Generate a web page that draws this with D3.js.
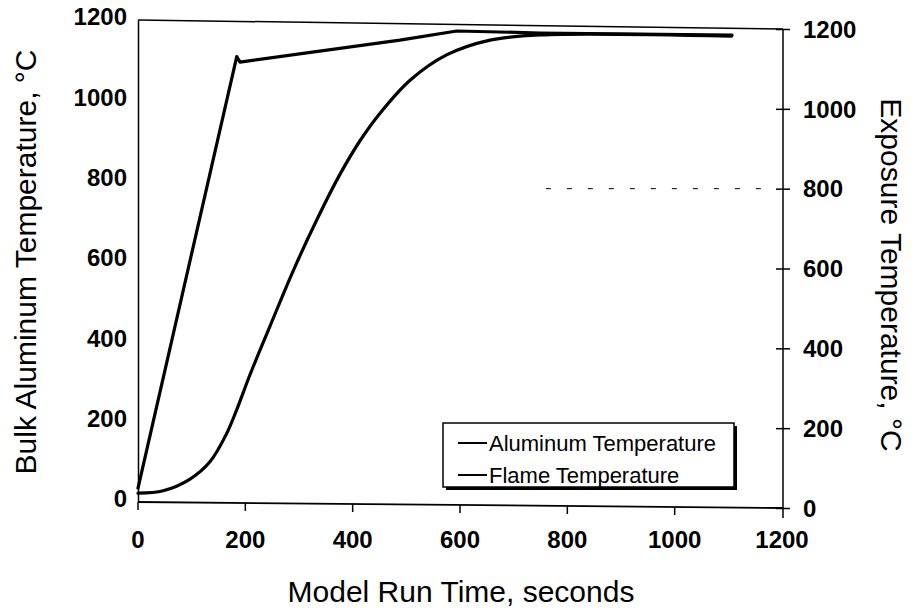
<!DOCTYPE html>
<html><head><meta charset="utf-8">
<script src="https://cdn.jsdelivr.net/npm/d3@7"></script>
<style>html,body{margin:0;padding:0;background:#fff;}svg{display:block;font-family:"Liberation Sans",Arial,sans-serif;}</style>
</head><body>
<svg id="chart" width="914" height="614"></svg>
<script>
// ---- data ----
const xTicks = [0, 200, 400, 600, 800, 1000, 1200];
const yTicks = [0, 200, 400, 600, 800, 1000, 1200];
const seriesNames = ["Aluminum Temperature", "Flame Temperature"];
const aluminumTime = [0, 47, 97, 134, 165, 184, 209, 246, 289, 333, 376, 414, 451, 507, 575, 656, 749, 1106];
const aluminumTemp = [22, 28, 57, 100, 170, 230, 318, 438, 575, 702, 815, 900, 968, 1050, 1113, 1150, 1163, 1160];
const flameTime = [0, 184, 190, 488, 594, 749, 1107];
const flameTemp = [50, 1131, 1117, 1172, 1195, 1190, 1185];
const gridValue = 800;
const gridFrom = 760;

// ---- layout ----
const svg = d3.select("#chart");
const fmt = d3.format("d");
const x = d3.scaleLinear().domain([0, 1200]).range([138, 782]);
const yL = d3.scaleLinear().domain([0, 1200]).range([502, 20]);
const yR = d3.scaleLinear().domain([0, 1200]).range([508, 29]);
const xR = 783;
const frac = px => (px - x(0)) / (xR - x(0));
const bottomY = px => yL(0) + (yR(0) - yL(0)) * frac(px);

// frame: top & bottom lines (slightly tilted like the scan)
svg.append("line").attr("x1", x(0)).attr("y1", yL(1200)).attr("x2", xR).attr("y2", yR(1200))
  .attr("stroke", "#000").attr("stroke-width", 1.5);
svg.append("line").attr("x1", x(0)).attr("y1", yL(0)).attr("x2", xR).attr("y2", yR(0))
  .attr("stroke", "#000").attr("stroke-width", 1.8);
// left axis
const leftAxis = d3.axisLeft(yL).tickValues(yTicks).tickFormat(fmt).tickSize(0).tickPadding(11);
const gL = svg.append("g").attr("transform", `translate(${x(0)},0)`).call(leftAxis);
gL.select(".domain").attr("stroke-width", 1.5);
gL.selectAll("text").attr("font-size", 24).attr("font-weight", "bold").attr("fill", "#000")
  .attr("font-family", "Liberation Sans, Arial, sans-serif").attr("dy", "0.28em")
  .attr("transform", "translate(0,-2)");
// right axis
const rightAxis = d3.axisRight(yR).tickValues(yTicks).tickFormat(fmt).tickSize(7).tickPadding(13);
const gR = svg.append("g").attr("transform", `translate(${xR},0)`).call(rightAxis);
gR.select(".domain").attr("d", `M0,${yR(0) + 10}V${yR(1200)}`).attr("stroke-width", 1.5);
gR.selectAll(".tick line").attr("x1", -7).attr("stroke-width", 1.5);
gR.selectAll("text").attr("font-size", 24).attr("font-weight", "bold").attr("fill", "#000")
  .attr("font-family", "Liberation Sans, Arial, sans-serif").attr("dy", "0.34em");
// bottom axis ticks and labels (follow tilted baseline)
const gB = svg.append("g");
gB.selectAll("line").data(xTicks.slice(0, -1)).join("line")
  .attr("x1", d => x(d)).attr("x2", d => x(d))
  .attr("y1", d => bottomY(x(d))).attr("y2", d => bottomY(x(d)) + 8)
  .attr("stroke", "#000").attr("stroke-width", 1.5);
gB.selectAll("text").data(xTicks).join("text")
  .attr("x", d => x(d)).attr("y", 548)
  .attr("text-anchor", "middle").attr("font-size", 24).attr("font-weight", "bold")
  .text(d => fmt(d));

// faint dashed grid remnant at 800
svg.append("line").attr("x1", x(gridFrom)).attr("x2", xR - 8)
  .attr("y1", yR(gridValue)).attr("y2", yR(gridValue))
  .attr("stroke", "#000").attr("stroke-width", 1).attr("stroke-dasharray", "5,16");

// series
const alData = aluminumTime.map((t, i) => [t, aluminumTemp[i]]);
const flData = flameTime.map((t, i) => [t, flameTemp[i]]);
svg.append("path").datum(alData)
  .attr("d", d3.line().x(d => x(d[0])).y(d => yL(d[1])).curve(d3.curveCatmullRom.alpha(0.5)))
  .attr("fill", "none").attr("stroke", "#000").attr("stroke-width", 3.2).attr("stroke-linejoin", "round").attr("stroke-linecap", "round");
svg.append("path").datum(flData)
  .attr("d", d3.line().x(d => x(d[0])).y(d => yR(d[1])))
  .attr("fill", "none").attr("stroke", "#000").attr("stroke-width", 3.2).attr("stroke-linejoin", "round").attr("stroke-linecap", "round");

// axis titles
svg.append("text").attr("x", 461).attr("y", 602).attr("text-anchor", "middle")
  .attr("font-size", 30).text("Model Run Time, seconds");
svg.append("text").attr("transform", "translate(36,262) rotate(-90)").attr("text-anchor", "middle")
  .attr("font-size", 30).text("Bulk Aluminum Temperature, °C");
svg.append("text").attr("transform", "translate(881,275) rotate(90)").attr("text-anchor", "middle")
  .attr("font-size", 30).text("Exposure Temperature, °C");

// legend
const lg = svg.append("g");
lg.append("rect").attr("x", 446).attr("y", 426).attr("width", 291).attr("height", 64).attr("fill", "#000");
lg.append("rect").attr("x", 443).attr("y", 423).attr("width", 291).attr("height", 64)
  .attr("fill", "#fff").attr("stroke", "#000").attr("stroke-width", 1.5);
const rows = [443, 475];
seriesNames.forEach((name, i) => {
  lg.append("line").attr("x1", 458).attr("x2", 487).attr("y1", rows[i]).attr("y2", rows[i])
    .attr("stroke", "#000").attr("stroke-width", 2);
  lg.append("text").attr("x", 489).attr("y", rows[i]).attr("dy", "0.35em")
    .attr("font-size", 22).text(name);
});
</script>
</body></html>
